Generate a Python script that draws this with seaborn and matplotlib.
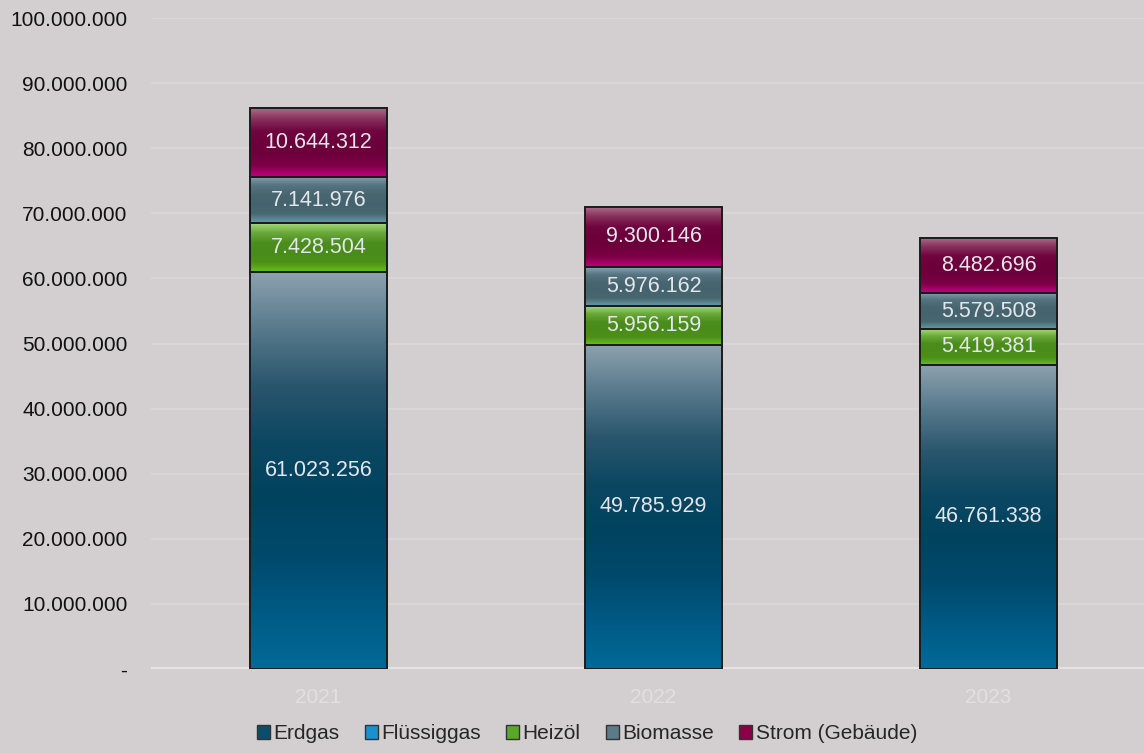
import numpy as np
import pandas as pd
import seaborn as sns
import matplotlib.pyplot as plt
from matplotlib.colors import LinearSegmentedColormap
from matplotlib.patches import Rectangle

# Chart data
years = ['2021', '2022', '2023']
sources = ['Erdgas', 'Flüssiggas', 'Heizöl', 'Biomasse', 'Strom (Gebäude)']
erdgas = [61023256, 49785929, 46761338]
fluessiggas = [0, 0, 0]
heizoel = [7428504, 5956159, 5419381]
biomasse = [7141976, 5976162, 5579508]
strom = [10644312, 9300146, 8482696]
y_ticks = [0, 10000000, 20000000, 30000000, 40000000, 50000000,
           60000000, 70000000, 80000000, 90000000, 100000000]

series = [erdgas, fluessiggas, heizoel, biomasse, strom]

# gradient stops per series (top -> bottom)
gradients = {
    'Erdgas': ['#8da2af', '#587a8c', '#2a566d', '#0c4762', '#00435f', '#00496c',
               '#005a84', '#006a98'],
    'Flüssiggas': ['#7fc4e8', '#1a8fc8', '#1a8fc8', '#39a8e0'],
    'Heizöl': ['#a2da78', '#6aa83a', '#4c8e1e', '#4a8c1a', '#4c9018', '#66c020'],
    'Biomasse': ['#86a2ae', '#557381', '#47666f', '#44636f', '#47686f', '#6a9aaa'],
    'Strom (Gebäude)': ['#b0708e', '#86325c', '#700640', '#6c003a', '#6e003c',
                        '#7c0046', '#c4007e'],
}
legend_colors = ['#0b4e6c', '#1a90cc', '#5aa82a', '#5c7a88', '#8c0048']

bg = '#d3cfd1'

sns.set_theme(style='white')
plt.rcParams['font.family'] = ['Liberation Sans', 'DejaVu Sans']

fig = plt.figure(figsize=(11.44, 7.53), dpi=100, facecolor=bg)
ax = fig.add_axes([151 / 1144, 84 / 753, 1005 / 1144, 651 / 753])
ax.set_facecolor(bg)

bottoms = np.zeros(len(years))
bar_w = 0.41
for name, vals in zip(sources, series):
    df = pd.DataFrame({'year': years, 'value': vals})
    n_before = len(ax.patches)
    sns.barplot(data=df, x='year', y='value', bottom=bottoms, width=bar_w,
                color='#888888', edgecolor='#1c1c1c', linewidth=1.4,
                ax=ax, zorder=3)
    cmap = LinearSegmentedColormap.from_list(name, gradients[name])
    grad = np.linspace(0, 1, 256).reshape(-1, 1)
    for p, v in zip(ax.patches[n_before:], vals):
        p.set_facecolor('none')
        if v <= 0:
            p.set_visible(False)
            continue
        x0 = p.get_x()
        y0 = p.get_y()
        w = p.get_width()
        h = p.get_height()
        ax.imshow(grad, cmap=cmap, aspect='auto', interpolation='bilinear',
                  extent=[x0, x0 + w, y0, y0 + h], origin='upper', zorder=2)
        ax.text(x0 + w / 2, y0 + h / 2, f'{v:,.0f}'.replace(',', '.'),
                ha='center', va='center', color='#e4e6ea', fontsize=15.5,
                zorder=5)
    bottoms = bottoms + np.array(vals)

ax.set_xlim(-0.5, 2.5)
ax.set_ylim(0, 100000000)
ax.set_yticks(y_ticks)
ax.set_yticklabels(['-'] + [f'{t:,.0f}'.replace(',', '.') for t in y_ticks[1:]],
                   fontsize=15, color='#111111')
ax.tick_params(axis='y', length=0, pad=17)
ax.tick_params(axis='x', length=0, pad=14, labelsize=15, labelcolor='#e2dfe1')
ax.set_xlabel('')
ax.set_ylabel('')
ax.yaxis.grid(True, color='#dcd8da', linewidth=1.2, zorder=0)
ax.set_axisbelow(True)
for s in ax.spines.values():
    s.set_visible(False)
ax.axhline(0, color='#e6e3e5', linewidth=3, zorder=1)

handles = [Rectangle((0, 0), 1, 1, facecolor=c, edgecolor='#333333', linewidth=1)
           for c in legend_colors]
fig.legend(handles, sources, loc='lower center', ncol=5, frameon=False,
           bbox_to_anchor=(0.513, -0.012), fontsize=15, handlelength=0.65,
           handleheight=0.65, handletextpad=0.15, columnspacing=1.2)

fig.savefig('out.png', dpi=100, facecolor=bg)
